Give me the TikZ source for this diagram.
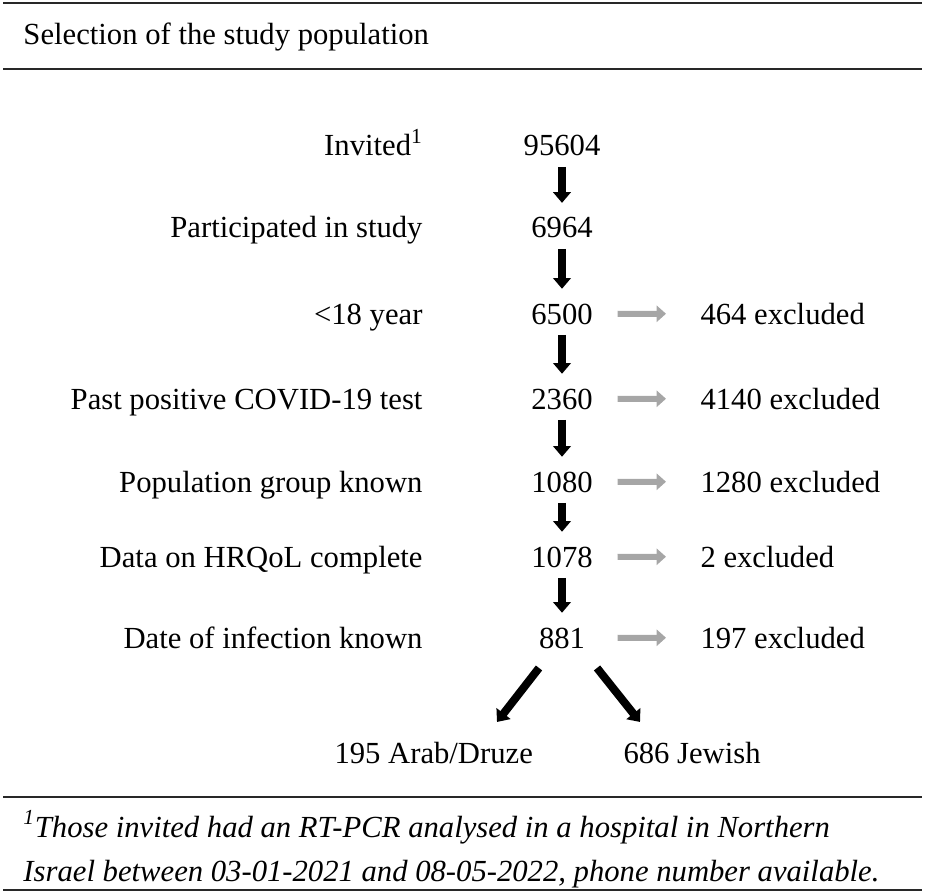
\documentclass[tikz,border=0pt]{standalone}
\usepackage{fontspec}
\setmainfont{Liberation Serif}
\usetikzlibrary{arrows.meta}
\definecolor{exclgray}{RGB}{166,166,166}
\definecolor{rulegray}{RGB}{40,40,40}

\begin{document}
\tikzset{every picture/.style={line width=0.75pt}}

\begin{tikzpicture}[x=0.75pt,y=0.75pt,yscale=-1,xscale=1,
  txt/.style={inner sep=0.75pt,font=\fontsize{23}{28}\selectfont},
  num/.style={txt,anchor=base,minimum width=60pt},
  rule/.style={line width=1.5pt,color=rulegray},
  downarrow/.style={line width=6pt,-{Triangle[length=8pt,width=13pt]},shorten <=6.75pt,shorten >=10pt},
  exclarrow/.style={color=exclgray,line width=4.5pt,-{Triangle[length=7pt,width=12pt]},shorten <=11.25pt,shorten >=24.75pt},
  splitarrow/.style={line width=6pt,-{Triangle[length=8pt,width=13pt]}}]
\useasboundingbox (0,0) rectangle (925,895);

%Straight Lines [rules]
\draw [rule] (3,3) -- (922,3) ;
\draw [rule] (3,69) -- (922,69) ;
\draw [rule] (3,797) -- (922,797) ;
\draw [rule] (3,890) -- (922,890) ;

% Text Node
\node (title) at (22,45) [txt,anchor=base west] {Selection of the study population};

% Text Node
\node (lab1) at (424,156) [txt,anchor=base east] {Invited\textsuperscript{1}};
\node (lab2) at (424,238) [txt,anchor=base east] {Participated in study};
\node (lab3) at (424,324) [txt,anchor=base east] {<18 year};
\node (lab4) at (424,409) [txt,anchor=base east] {Past positive COVID-19 test};
\node (lab5) at (424,492) [txt,anchor=base east] {Population group known};
\node (lab6) at (424,567) [txt,anchor=base east] {Data on HRQoL complete};
\node (lab7) at (424,648) [txt,anchor=base east] {Date of infection known};

% Text Node
\node (n1) at (562,156) [num] {95604};
\node (n2) at (562,238) [num] {6964};
\node (n3) at (562,324) [num] {6500};
\node (n4) at (562,409) [num] {2360};
\node (n5) at (562,492) [num] {1080};
\node (n6) at (562,567) [num] {1078};
\node (n7) at (562,648) [num] {881};

% Text Node
\node (ex3) at (699,324) [txt,anchor=base west] {464 excluded};
\node (ex4) at (699,409) [txt,anchor=base west] {4140 excluded};
\node (ex5) at (699,492) [txt,anchor=base west] {1280 excluded};
\node (ex6) at (699,567) [txt,anchor=base west] {2 excluded};
\node (ex7) at (699,648) [txt,anchor=base west] {197 excluded};

% Text Node
\node (arab) at (333,763) [txt,anchor=base west] {195 Arab/Druze};
\node (jewish) at (622,763) [txt,anchor=base west] {686 Jewish};

%Straight Lines [arrows down]
\draw [downarrow] (n1) -- (n2) ;
\draw [downarrow] (n2) -- (n3) ;
\draw [downarrow] (n3) -- (n4) ;
\draw [downarrow] (n4) -- (n5) ;
\draw [downarrow] (n5) -- (n6) ;
\draw [downarrow] (n6) -- (n7) ;

%Straight Lines [arrows to excluded]
\draw [exclarrow] (n3) -- (ex3) ;
\draw [exclarrow] (n4) -- (ex4) ;
\draw [exclarrow] (n5) -- (ex5) ;
\draw [exclarrow] (n6) -- (ex6) ;
\draw [exclarrow] (n7) -- (ex7) ;

%Straight Lines [split]
\draw [splitarrow] ([shift={(-23,30)}]n7.center) -- ++(-42,54) ;
\draw [splitarrow] ([shift={(35,30)}]n7.center) -- ++(43,54) ;

% Text Node
\node (note1) at (22,837) [txt,anchor=base west] {\itshape\textsuperscript{1}Those invited had an RT-PCR analysed in a hospital in Northern};
\node (note2) at (22,881) [txt,anchor=base west] {\itshape Israel between 03-01-2021 and 08-05-2022, phone number available.};

\end{tikzpicture}
\end{document}
